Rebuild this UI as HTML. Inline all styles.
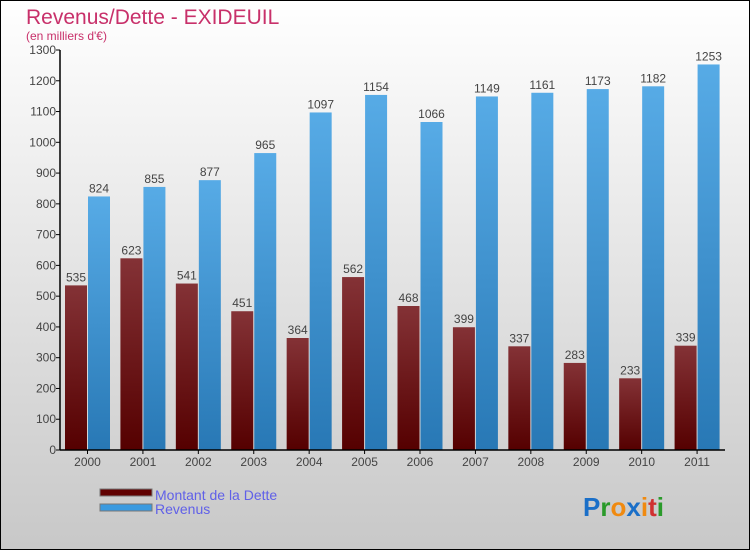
<!DOCTYPE html>
<html><head><meta charset="utf-8"><style>
body{margin:0;width:750px;height:550px;overflow:hidden;font-family:"Liberation Sans",sans-serif}
</style></head><body>
<svg width="750" height="550" xmlns="http://www.w3.org/2000/svg">
<defs>
<linearGradient id="bg" x1="0" y1="0" x2="0" y2="1"><stop offset="0" stop-color="#ffffff"/><stop offset="1" stop-color="#c8c8c8"/></linearGradient>
<linearGradient id="gd" x1="0" y1="0" x2="0" y2="1"><stop offset="0" stop-color="#843236"/><stop offset="1" stop-color="#550000"/></linearGradient>
<linearGradient id="gr" x1="0" y1="0" x2="0" y2="1"><stop offset="0" stop-color="#57abe6"/><stop offset="1" stop-color="#2878b5"/></linearGradient>
</defs>
<rect x="0.5" y="0.5" width="749" height="549" fill="url(#bg)" stroke="#000"/>
<text x="26" y="24" font-size="21" fill="#c8306a">Revenus/Dette - EXIDEUIL</text>
<text x="26" y="40" font-size="12" fill="#c8306a">(en milliers d'€)</text>
<g id="plot"></g>
<g>
<rect x="100" y="489" width="52" height="7" fill="#600000" stroke="#777"/>
<text x="155" y="500" font-size="14" fill="#6060e8">Montant de la Dette</text>
<rect x="100" y="504" width="52" height="7" fill="#3a9ae0" stroke="#777"/>
<text x="155" y="514" font-size="14" fill="#6060e8">Revenus</text>
</g>
<g font-size="26" font-weight="bold">
<text x="583" y="516"><tspan fill="#1a6fc8">P</tspan><tspan fill="#2a9a2a">r</tspan><tspan fill="#f08a10">o</tspan><tspan fill="#1a6fc8">x</tspan><tspan fill="#f08a10">i</tspan><tspan fill="#d03030">t</tspan><tspan fill="#2a9a2a">i</tspan></text>
</g>
</svg>
<script>
const categories=["2000","2001","2002","2003","2004","2005","2006","2007","2008","2009","2010","2011"];
const dette=[535,623,541,451,364,562,468,399,337,283,233,339];
const revenus=[824,855,877,965,1097,1154,1066,1149,1161,1173,1182,1253];
const yTicks=[0,100,200,300,400,500,600,700,800,900,1000,1100,1200,1300];
const NS="http://www.w3.org/2000/svg";
const g=document.getElementById('plot');
const x0=60,x1=725,yB=450,yT=50,yMax=1300;
const bw=(x1-x0)/categories.length;
const y=v=>yB-(v/yMax)*(yB-yT);
function mk(t,a,txt){const e=document.createElementNS(NS,t);for(const k in a)e.setAttribute(k,a[k]);if(txt!=null)e.textContent=txt;g.appendChild(e);return e;}
yTicks.forEach(v=>{
 const l=mk('line',{x1:x0-4,x2:x0,y1:y(v),y2:y(v),stroke:'#000'});
 
 
 const t=mk('text',{x:x0-4,y:y(v)+4,'font-size':12,fill:'#444','text-anchor':'end'},v);
 
 
});
categories.forEach((c,i)=>{
 const s=x0+bw*i;
 const r1=mk('rect',{x:s+5,y:y(dette[i]),width:22,height:yB-y(dette[i]),fill:'url(#gd)'});
 
 
 const r2=mk('rect',{x:s+28,y:y(revenus[i]),width:22,height:yB-y(revenus[i]),fill:'url(#gr)'});
 
 
 const t1=mk('text',{x:s+16,y:y(dette[i])-4,'font-size':12,fill:'#444','text-anchor':'middle'},dette[i]);
 
 
 const t2=mk('text',{x:s+39,y:y(revenus[i])-4,'font-size':12,fill:'#444','text-anchor':'middle'},revenus[i]);
 
 
 const tk=mk('line',{x1:s+27.5,x2:s+27.5,y1:yB,y2:yB+4,stroke:'#000'});
 
 
 const xl=mk('text',{x:s+27.5,y:yB+16,'font-size':12,fill:'#444','text-anchor':'middle'},c);
 
 
});
const ya=mk('line',{x1:x0,x2:x0,y1:yT,y2:yB,stroke:'#000','stroke-width':1.5});


const xa=mk('line',{x1:x0,x2:x1,y1:yB,y2:yB,stroke:'#000','stroke-width':1.5});


</script>
</body></html>
